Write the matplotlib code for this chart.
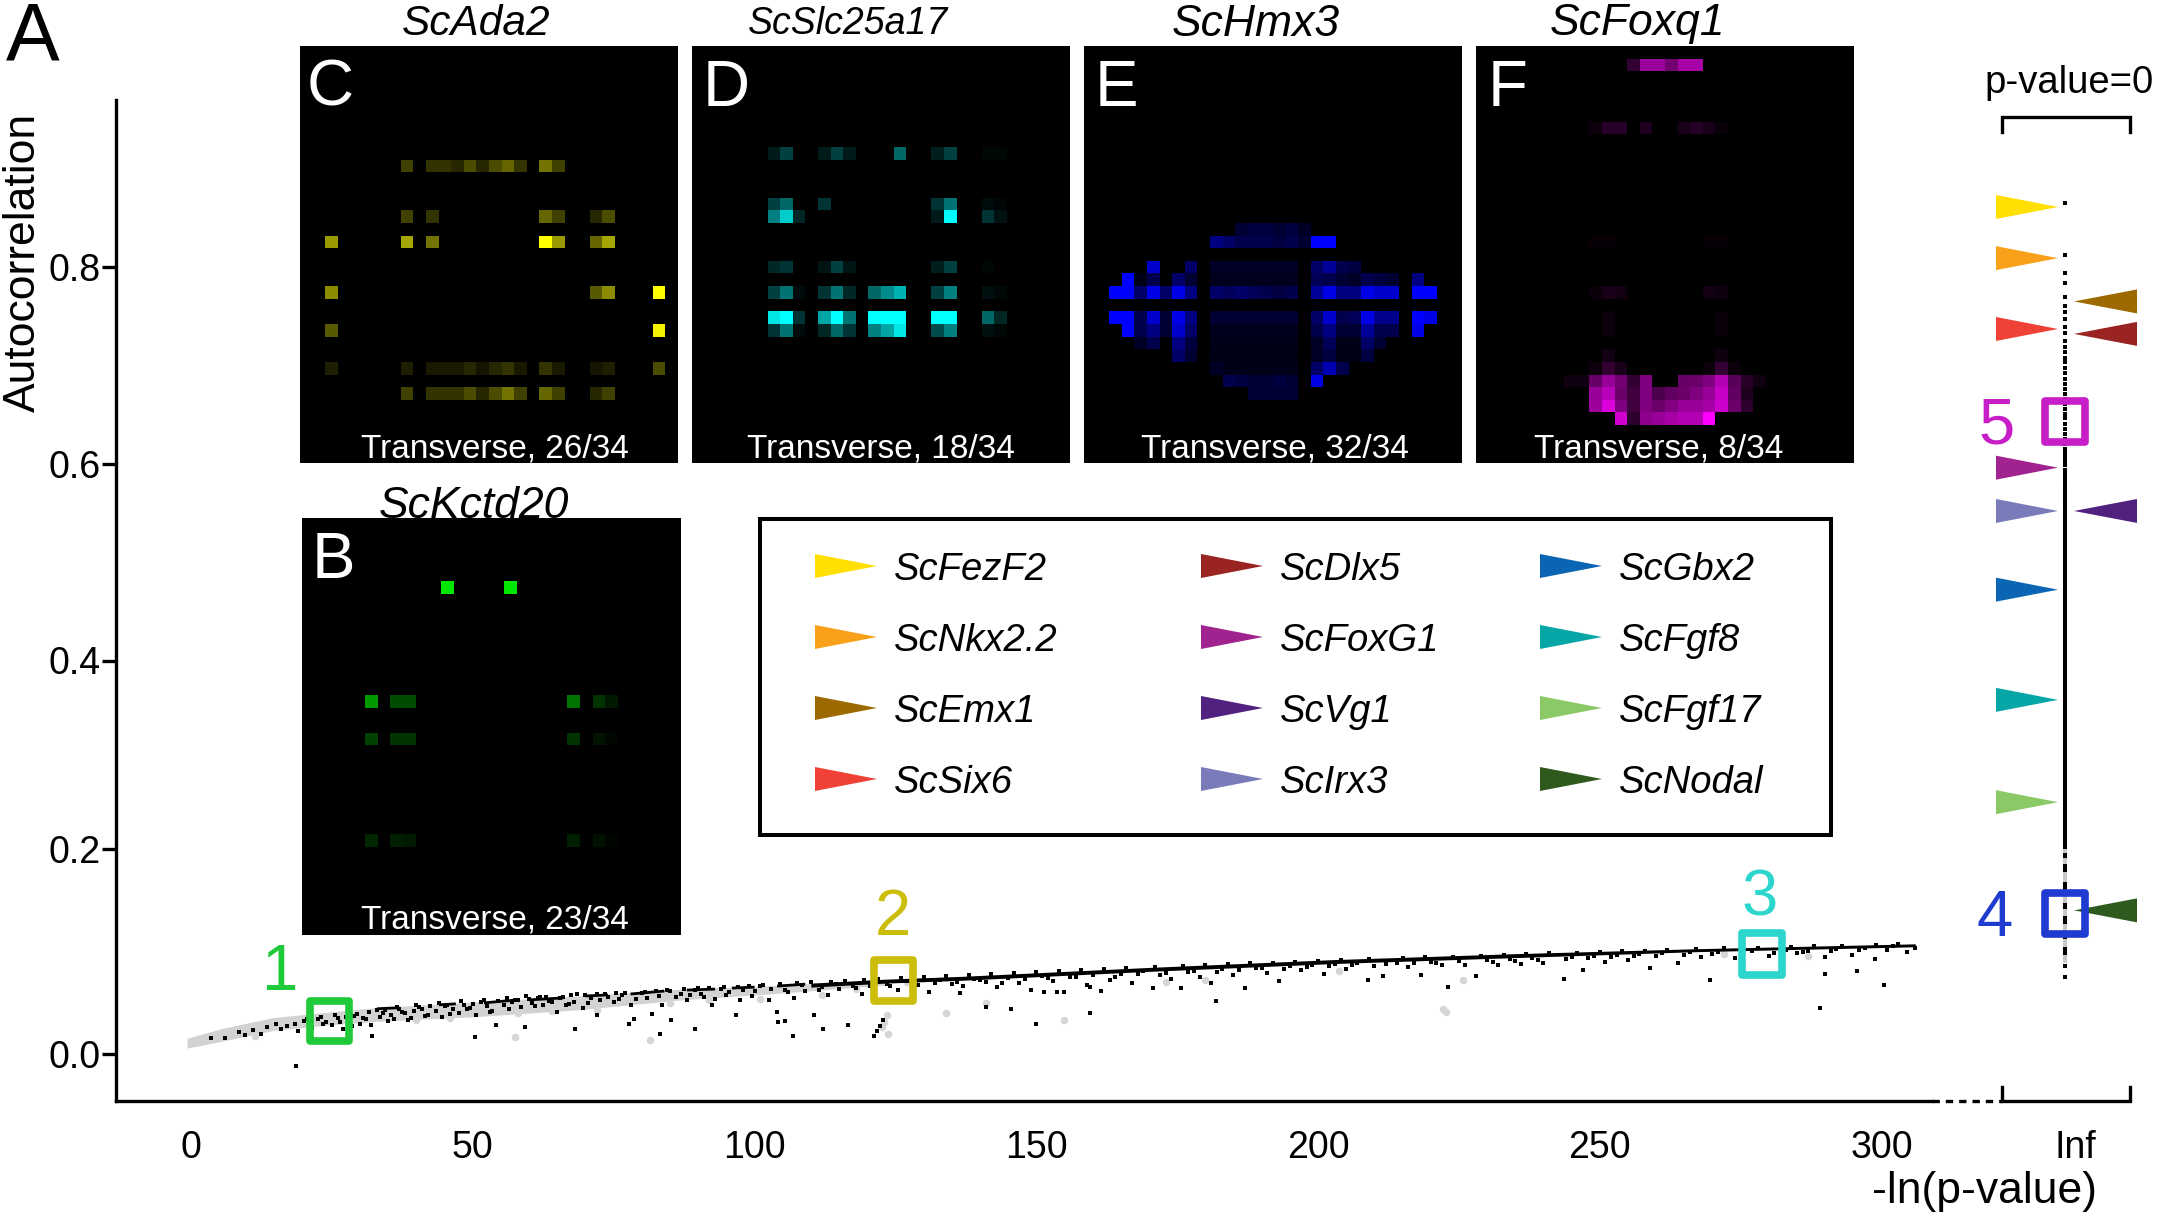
#!/usr/bin/env python3
"""Autocorrelation vs -ln(p-value) with expression panels around it."""

import numpy as np
import matplotlib
matplotlib.use("Agg")
import matplotlib.pyplot as plt
from matplotlib.colors import LinearSegmentedColormap
from matplotlib.patches import Polygon, Rectangle

plt.rcParams["font.family"] = ["Liberation Sans", "DejaVu Sans"]

W, H = 2157, 1215

# -- values ------------------------------------------------------------------
x_ticks = [0, 50, 100, 150, 200, 250, 300]
y_ticks = [0.0, 0.2, 0.4, 0.6, 0.8]
# the 0.2 mark sits a little off the regular spacing in the original
y_tick_pos = [0.0, 0.208, 0.4, 0.6, 0.8]

# upper edge of the main cloud and the lower edge of its grey part
band_x = [-0.7, 5.5, 14.6, 23.4, 32.5, 50.6, 68.8, 87, 105, 123]
band_top = [0.016, 0.026, 0.037, 0.042, 0.047, 0.053, 0.059, 0.066, 0.070, 0.076]
band_grey_low = [0.006, 0.013, 0.024, 0.029, 0.033, 0.038, 0.045, 0.055, 0.062, 0.070]
band_black_x = [110, 123, 137, 170, 203, 235, 267, 306]
band_black_top = [0.072, 0.076, 0.079, 0.088, 0.096, 0.102, 0.107, 0.112]
band_black_low = [0.068, 0.072, 0.075, 0.084, 0.092, 0.098, 0.104, 0.109]

# black stretches on the grey part of the cloud
run_x0 = [33, 44, 52, 60, 70, 78, 88, 96, 104]
run_x1 = [37, 47, 58, 66, 74, 84, 93, 100, 109]
run_y0 = [0.046, 0.050, 0.052, 0.055, 0.059, 0.061, 0.065, 0.067, 0.069]
run_y1 = [0.047, 0.051, 0.055, 0.057, 0.060, 0.064, 0.066, 0.068, 0.071]

near_x = [3.5, 6, 8.5, 9.5, 11, 12.5, 13.5, 15, 16, 17, 18.5, 18.6, 19, 20, 21.5, 22.5, 24, 25, 26, 27, 28,
          29, 30, 31, 32.2, 33, 34, 35, 36.5, 37.5, 39, 40, 41, 42, 44, 45, 46, 48, 49, 50, 50.4, 52, 53, 54.2,
          56, 57, 58, 59.2, 59.5, 61, 62, 63.5, 65, 66, 67, 68.2, 68.5, 69.5, 71, 72.1, 73.5, 75, 76.5, 77.8, 78.6,
          79, 80.5, 81.8, 83, 83.2, 84.5, 85.2, 87, 88, 89.4, 89.5, 91, 92.5, 94, 95, 96.8, 98, 99.5, 101, 102.5,
          104, 104.1, 105.4, 106, 106.9, 107, 108.5, 110.6, 111.5, 112.1, 113, 114.5, 116.6, 118, 119, 121, 121.2,
          121.7, 122.3, 122.8, 124, 125.5, 127, 129, 131, 133, 135, 136.5, 137, 139, 141, 141.1, 143, 145, 145.5,
          147, 149, 150, 151, 151.3, 153, 153.6, 155, 157, 159, 159.5, 159.6, 161.5, 163, 165, 167, 169, 170.8,
          172, 174, 175.7, 177, 179, 181, 181.9, 183, 185, 187, 189, 191, 193.1, 195, 197, 199, 201, 203, 205, 207,
          208.9, 210, 211.6, 214, 216, 218.3, 220, 222, 223, 225, 228, 230, 232, 234, 236, 238, 240, 243.7, 245,
          247, 249, 251, 253, 255, 257, 259, 261, 263.8, 266, 268, 269.5, 271, 274, 277, 280, 283, 285, 287, 289.1,
          289.9, 289.95, 292, 294.7, 295.6, 297, 298.8, 300.4, 302, 304.5]
near_y = [0.016, 0.016, 0.022, 0.019, 0.024, 0.020, 0.027, 0.031, 0.025, 0.028, 0.030, -0.012, 0.023, 0.034, 0.026, 0.036, 0.033, 0.029, 0.037, 0.025, 0.033,
          0.039, 0.031, 0.036, 0.018, 0.045, 0.042, 0.034, 0.048, 0.043, 0.037, 0.050, 0.046, 0.040, 0.052, 0.049, 0.041, 0.054, 0.046, 0.051, 0.017, 0.055, 0.043, 0.029,
          0.057, 0.053, 0.055, 0.027, 0.059, 0.049, 0.058, 0.054, 0.043, 0.058, 0.051, 0.025, 0.061, 0.047, 0.057, 0.040, 0.061, 0.053, 0.060, 0.031, 0.036,
          0.056, 0.063, 0.041, 0.059, 0.020, 0.065, 0.035, 0.061, 0.055, 0.025, 0.065, 0.058, 0.050, 0.066, 0.060, 0.040, 0.065, 0.059, 0.069, 0.055,
          0.043, 0.033, 0.034, 0.063, 0.018, 0.057, 0.070, 0.040, 0.065, 0.025, 0.060, 0.071, 0.029, 0.067, 0.061, 0.073, 0.018,
          0.023, 0.028, 0.035, 0.069, 0.065, 0.074, 0.070, 0.063, 0.075, 0.071, 0.062, 0.069, 0.076, 0.073, 0.048, 0.068, 0.077, 0.046,
          0.072, 0.065, 0.030, 0.079, 0.063, 0.074, 0.063, 0.063, 0.078, 0.070, 0.042, 0.068, 0.064, 0.075, 0.081, 0.072, 0.084, 0.067,
          0.080, 0.076, 0.067, 0.083, 0.078, 0.072, 0.054, 0.086, 0.080, 0.067, 0.087, 0.082, 0.074, 0.089, 0.085, 0.090, 0.081, 0.091, 0.086, 0.092,
          0.075, 0.089, 0.079, 0.093, 0.088, 0.080, 0.094, 0.090, 0.068, 0.095, 0.079, 0.096, 0.090, 0.097, 0.091, 0.098, 0.093, 0.076, 0.099,
          0.085, 0.100, 0.094, 0.101, 0.096, 0.102, 0.087, 0.103, 0.092, 0.104, 0.099, 0.075, 0.104, 0.098, 0.105, 0.100, 0.106, 0.103, 0.105, 0.047,
          0.081, 0.099, 0.107, 0.101, 0.084, 0.108, 0.097, 0.070, 0.110, 0.104]
# the thick crowd of points just under the edge
dense_x = [20.5, 21, 23, 23.5, 25.5, 26.5, 27.5, 28.5, 29.5, 30.5, 31.5, 32, 33.5, 34.5, 35.5, 36, 37, 38, 38.5, 39.5,
           40.5, 41.5, 42.5, 43.5, 44.5, 45.5, 46.5, 47.5, 48.5, 49.5, 50.5, 51.5, 52.5, 53.5, 54.5, 55.5, 56.5, 57.5, 58.5,
           60, 60.5, 61.5, 62.5, 63, 64, 65.5, 66.5, 67.5, 68, 70, 70.5, 72, 72.5, 74, 75.5, 76, 77, 78, 80, 81, 82.5, 83.5,
           85, 86, 87.5, 88.5, 90, 90.5, 92, 93, 94.5, 95.5, 97, 97.5, 99, 100, 101.5, 103, 104.5, 105.5, 107.5, 109, 110,
           112, 113.5, 115, 116, 117.5, 119.5, 120.5, 122, 123.5, 126, 128, 130, 132, 134, 136, 138, 140, 142, 144, 146,
           148, 150, 152, 154, 156, 158, 160, 162, 164, 166, 168, 171, 173, 176, 178, 180, 182, 184, 186, 188, 190, 192,
           194, 196, 198, 200, 202, 204, 206, 209, 212, 215, 217, 219, 221, 224, 226, 229, 231, 233, 235, 237, 239, 241,
           244, 246, 248, 250, 252, 254, 256, 258, 260, 262, 265, 267, 270, 272, 275, 278, 281, 284, 286, 288, 291, 293,
           296, 299, 301, 303, 306]
dense_y = [0.036, 0.030, 0.038, 0.031, 0.040, 0.033, 0.038, 0.028, 0.041, 0.037, 0.043, 0.029, 0.038, 0.045, 0.040, 0.036, 0.046, 0.042, 0.035, 0.044,
           0.048, 0.039, 0.049, 0.044, 0.038, 0.050, 0.046, 0.042, 0.050, 0.047, 0.040, 0.053, 0.049, 0.044, 0.054, 0.050, 0.046, 0.055, 0.048,
           0.056, 0.052, 0.057, 0.050, 0.058, 0.053, 0.057, 0.050, 0.060, 0.053, 0.060, 0.052, 0.061, 0.055, 0.058, 0.062, 0.056, 0.062, 0.050, 0.062, 0.057, 0.064, 0.050,
           0.064, 0.058, 0.066, 0.060, 0.067, 0.061, 0.067, 0.056, 0.068, 0.063, 0.068, 0.055, 0.069, 0.064, 0.070, 0.066, 0.071, 0.065, 0.072, 0.064, 0.073,
           0.068, 0.073, 0.066, 0.074, 0.069, 0.075, 0.069, 0.076, 0.071, 0.077, 0.070, 0.078, 0.072, 0.079, 0.073, 0.080, 0.075, 0.081, 0.072, 0.082,
           0.076, 0.083, 0.077, 0.084, 0.078, 0.085, 0.080, 0.086, 0.078, 0.087, 0.081, 0.088, 0.082, 0.089, 0.084, 0.090, 0.083, 0.091, 0.085, 0.092, 0.087, 0.093,
           0.086, 0.094, 0.088, 0.095, 0.089, 0.096, 0.090, 0.097, 0.091, 0.098, 0.092, 0.099, 0.093, 0.099, 0.090, 0.100, 0.094, 0.101, 0.095, 0.102, 0.096, 0.103,
           0.097, 0.103, 0.098, 0.104, 0.099, 0.105, 0.100, 0.105, 0.100, 0.106, 0.101, 0.107, 0.102, 0.108, 0.103, 0.108, 0.103, 0.109, 0.104, 0.110, 0.105, 0.110,
           0.106, 0.111, 0.106, 0.112, 0.108]
grey_x = [11.3, 57.5, 81.4, 123.7, 133.9, 122.7, 123, 123.5, 40, 46, 58, 64, 72, 85, 92, 101, 112, 118, 127, 141, 155, 173, 180, 203.7, 222.2, 222.8, 225.7, 272, 287]
grey_y = [0.018, 0.017, 0.014, 0.020, 0.042, 0.027, 0.033, 0.040, 0.035, 0.037, 0.042, 0.044, 0.045, 0.052, 0.055, 0.056, 0.060, 0.066, 0.073, 0.052, 0.035, 0.073, 0.075, 0.084, 0.046, 0.043, 0.075, 0.102, 0.100]

# p-value = 0 column
inf_x = 332.6
inf_dots = [0.865, 0.812, 0.794, 0.784, 0.769, 0.760, 0.754, 0.747, 0.739, 0.733, 0.725, 0.719, 0.714, 0.708,
            0.703, 0.697, 0.692, 0.686, 0.681, 0.676, 0.671, 0.666, 0.661, 0.656, 0.651, 0.646, 0.640, 0.635,
            0.630, 0.625, 0.620, 0.615, 0.611, 0.607, 0.603, 0.599, 0.594, 0.590, 0.586, 0.582, 0.089, 0.078]
inf_solid = (0.582, 0.208)
inf_grey = (0.208, 0.092)
inf_black_hi = [0.204, 0.193, 0.175, 0.153, 0.140, 0.124, 0.109]
inf_black_lo = [0.199, 0.185, 0.167, 0.147, 0.132, 0.117, 0.101]

# legend order, with the autocorrelation each arrow points at and its side
genes = ["ScFezF2", "ScNkx2.2", "ScEmx1", "ScSix6", "ScDlx5", "ScFoxG1", "ScVg1", "ScIrx3", "ScGbx2", "ScFgf8", "ScFgf17", "ScNodal"]
gene_colors = ["#ffe000", "#f9a11b", "#9c6a00", "#ef4136", "#9a2421", "#a0238f", "#52217f", "#7a7cba", "#0a66b5", "#06a6a6", "#8bc866", "#2f5a1e"]
gene_values = [0.861, 0.809, 0.765, 0.737, 0.732, 0.596, 0.552, 0.552, 0.472, 0.360, 0.256, 0.146]
gene_sides = ["L", "L", "R", "L", "R", "L", "R", "L", "L", "L", "L", "R"]

# expression slices: (row, first column, intensities) on a 33 x 30 grid
kctd20_cells = [
    (5, 11, [0.9]), (5, 16, [0.9]),
    (14, 5, [0.6]), (14, 7, [0.3, 0.3]), (14, 21, [0.45]), (14, 23, [0.2, 0.1]),
    (17, 5, [0.25]), (17, 7, [0.2, 0.2]), (17, 21, [0.2]), (17, 23, [0.08, 0.03]),
    (25, 5, [0.15]), (25, 7, [0.12, 0.1]), (25, 21, [0.12]), (25, 23, [0.07, 0.02]),
]
ada2_cells = [
    (9, 8, [0.25]), (9, 10, [0.2, 0.2, 0.15, 0.3, 0.15, 0.3, 0.4, 0.2]), (9, 19, [0.45, 0.25]),
    (13, 8, [0.25]), (13, 10, [0.2]), (13, 19, [0.4, 0.25]), (13, 23, [0.15, 0.3]),
    (15, 2, [0.6]), (15, 8, [0.65]), (15, 10, [0.45]), (15, 19, [1.0, 0.6]), (15, 23, [0.4, 0.65]),
    (19, 2, [0.55]), (19, 23, [0.35, 0.55]), (19, 28, [1.0]),
    (22, 2, [0.35]), (22, 28, [0.95]),
    (25, 2, [0.12]), (25, 8, [0.12]), (25, 10, [0.1, 0.1, 0.1, 0.15, 0.08, 0.15, 0.2, 0.1]), (25, 19, [0.2, 0.1]), (25, 23, [0.08, 0.12]), (25, 28, [0.3]),
    (27, 8, [0.25]), (27, 10, [0.2, 0.2, 0.2, 0.3, 0.15, 0.3, 0.45, 0.25]), (27, 19, [0.4, 0.25]), (27, 23, [0.15, 0.25]),
]
slc25a17_cells = [
    (8, 6, [0.1, 0.25]), (8, 10, [0.1, 0.25, 0.1]), (8, 16, [0.4]), (8, 19, [0.12, 0.25]), (8, 23, [0.03, 0.03]),
    (12, 6, [0.25, 0.4]), (12, 10, [0.2]), (12, 19, [0.2, 0.45]), (12, 23, [0.05, 0.02]),
    (13, 6, [0.5, 0.8, 0.15]), (13, 19, [0.1, 1.0]), (13, 23, [0.2, 0.07]),
    (17, 6, [0.15, 0.2]), (17, 10, [0.08, 0.25, 0.08]), (17, 19, [0.12, 0.25]), (17, 23, [0.03]),
    (19, 6, [0.25, 0.45, 0.05]), (19, 10, [0.2, 0.45, 0.15]), (19, 14, [0.4, 0.55, 0.7]), (19, 19, [0.25, 0.5]), (19, 23, [0.06, 0.03]),
    (21, 6, [0.9, 1.0, 0.2]), (21, 10, [0.65, 1.0, 0.45]), (21, 14, [1.0, 1.0, 1.0]), (21, 19, [1.0, 1.0]), (21, 23, [0.4, 0.15]),
    (22, 6, [0.2, 0.45, 0.05]), (22, 10, [0.15, 0.4, 0.2]), (22, 14, [0.5, 0.65, 0.9]), (22, 19, [0.3, 0.5]), (22, 23, [0.06, 0.03]),
]
hmx3_cells = [
    (14, 12, [0.2, 0.25, 0.25, 0.2, 0.25, 0.15]),
    (15, 10, [0.5, 0.4, 0.3, 0.3, 0.3, 0.25, 0.3, 0.2, 1.0, 1.0]),
    (17, 5, [0.8]), (17, 8, [0.4]), (17, 10, [0.15] * 7), (17, 18, [0.4, 0.6, 0.3, 0.25]),
    (18, 3, [1.0, 0.1, 0.3]), (18, 7, [0.4, 0.2]), (18, 10, [0.12] * 7), (18, 18, [0.35, 0.3, 0.2, 0.15, 0.3, 0.25, 0.2]), (18, 26, [0.5]),
    (19, 2, [1.0, 1.0, 0.4, 0.9, 0.4, 0.9, 0.5]), (19, 10, [0.4, 0.35, 0.4, 0.35, 0.3, 0.25, 0.3]), (19, 18, [0.6, 0.9, 0.5, 0.5, 0.9, 0.8, 0.8]), (19, 26, [1.0, 1.0]),
    (21, 2, [1.0, 1.0, 0.3, 0.8, 0.2, 0.9, 0.5]), (21, 10, [0.2] * 7), (21, 18, [0.4, 0.8, 0.3, 0.35, 0.9, 0.55, 0.55]), (21, 26, [1.0, 0.9]),
    (22, 3, [1.0, 0.3, 0.5, 0.2, 0.8, 0.4]), (22, 10, [0.12] * 7), (22, 18, [0.3, 0.5, 0.2, 0.2, 0.6, 0.3, 0.3]), (22, 26, [0.9]),
    (23, 4, [0.15, 0.3]), (23, 7, [0.5, 0.25]), (23, 10, [0.1] * 7), (23, 18, [0.15, 0.35, 0.1, 0.1, 0.4, 0.2]),
    (24, 7, [0.4, 0.2]), (24, 10, [0.08] * 7), (24, 18, [0.15, 0.25, 0.08, 0.08, 0.25]),
    (25, 10, [0.15, 0.1, 0.1, 0.1, 0.1, 0.1, 0.1]), (25, 18, [0.4, 0.7, 0.3]),
    (26, 11, [0.3, 0.25, 0.2, 0.2, 0.25, 0.2]), (26, 18, [0.9]),
    (27, 13, [0.2, 0.2, 0.2, 0.2]),
]
foxq1_cells = [
    (1, 12, [0.2, 0.6, 0.6, 0.45, 0.65, 0.65]),
    (6, 9, [0.05, 0.15, 0.15]), (6, 13, [0.12]), (6, 16, [0.1, 0.15, 0.1, 0.04]),
    (15, 9, [0.03, 0.03]), (15, 18, [0.03, 0.03]),
    (19, 9, [0.04, 0.1, 0.08]), (19, 18, [0.08, 0.06]),
    (21, 10, [0.05]), (21, 19, [0.04]), (22, 10, [0.05]), (22, 19, [0.04]),
    (24, 10, [0.08]), (24, 19, [0.06]),
    (25, 9, [0.05, 0.2, 0.1]), (25, 18, [0.05, 0.2, 0.05]),
    (26, 7, [0.07, 0.07, 0.4, 0.6, 0.45, 0.2, 0.5]), (26, 16, [0.4, 0.42, 0.5, 0.7, 0.35, 0.15, 0.07]),
    (27, 9, [0.6, 0.72, 0.42, 0.25, 0.5, 0.3, 0.38, 0.42, 0.5, 0.6, 0.78, 0.38, 0.12]),
    (28, 9, [0.62, 0.85, 0.5, 0.25, 0.5, 0.42, 0.5, 0.6, 0.6, 0.65, 0.8, 0.42, 0.18]),
    (29, 11, [0.82, 0.18, 0.55, 0.6, 0.65, 0.7, 0.7, 1.0]),
]

# -- layout, in pixels of the finished picture ------------------------------
FS_TICK = 27
X0_PX, PX_PER_X = 191, 5.635
Y0_PX, PX_PER_Y = 1054, 983.75


def px_of_y(v):
    return Y0_PX - v * PX_PER_Y


def x_of_px(p):
    return (p - X0_PX) / PX_PER_X


def y_of_px(p):
    return (Y0_PX - p) / PX_PER_Y


def rect_from_px(left, top, right, bottom):
    return [left / W, 1 - bottom / H, (right - left) / W, (bottom - top) / H]


def draw_slice(fig, box, cells, color):
    mat = np.zeros((33, 30))
    for row, col, vals in cells:
        mat[row, col:col + len(vals)] = vals
    ax = fig.add_axes(rect_from_px(*box))
    cmap = LinearSegmentedColormap.from_list("slice", ["#000000", color])
    ax.imshow(mat, cmap=cmap, vmin=0, vmax=1, aspect="auto", interpolation="nearest")
    ax.axis("off")


fig = plt.figure(figsize=(W / 100, H / 100), dpi=100, facecolor="white")

# main scatter
ax = fig.add_axes(rect_from_px(116, 100, W, 1101))
ax.set_xlim(x_of_px(116), x_of_px(W))
ax.set_ylim(y_of_px(1101), y_of_px(100))
ax.patch.set_alpha(0)
for side in ["top", "right"]:
    ax.spines[side].set_visible(False)
for side in ["left", "bottom"]:
    ax.spines[side].set_linewidth(2.4)
ax.spines["bottom"].set_bounds(x_of_px(116), x_of_px(1932))
ax.set_xticks(x_ticks + [x_of_px(2075)])
ax.set_xticklabels([str(t) for t in x_ticks] + ["Inf"], fontsize=FS_TICK)
ax.set_yticks(y_tick_pos)
ax.set_yticklabels([f"{t:.1f}" for t in y_ticks], fontsize=FS_TICK)
ax.tick_params(axis="x", length=0, pad=21)
ax.tick_params(axis="y", length=10, width=2.4, pad=1)

ax.fill_between(band_x, band_grey_low, band_top, color="#d2d2d2", lw=0)
ax.scatter(grey_x, grey_y, s=30, c="#d6d6d6", marker="o", linewidths=0)
ax.fill_between(band_black_x, band_black_low, band_black_top, color="black", lw=0)
for x0, x1, y0, y1 in zip(run_x0, run_x1, run_y0, run_y1):
    ax.plot([x0, x1], [y0, y1], color="black", lw=2, solid_capstyle="butt")
ax.scatter(near_x, near_y, s=7, c="black", marker="s", linewidths=0)
ax.scatter(dense_x, dense_y, s=7, c="black", marker="s", linewidths=0)

# p-value = 0 column
ax.scatter([inf_x] * len(inf_dots), inf_dots, s=12, c="black", marker="s", linewidths=0)
ax.plot([inf_x, inf_x], inf_solid, color="black", lw=2.9, solid_capstyle="butt")
ax.plot([inf_x, inf_x], inf_grey, color="#c8c8c8", lw=2.9, solid_capstyle="butt")
ax.vlines([inf_x] * len(inf_black_hi), inf_black_lo, inf_black_hi, color="black", lw=2.9)

# everything else sits on an overlay measured in pixels
ov = fig.add_axes([0, 0, 1, 1], zorder=5)
ov.set_xlim(0, W)
ov.set_ylim(H, 0)
ov.axis("off")

# titles go under the slices
slice_titles = [("ScAda2", 476, 24, 30.5), ("ScSlc25a17", 848, 24, 27), ("ScHmx3", 1256, 24, 32), ("ScFoxq1", 1637, 24, 32), ("ScKctd20", 474, 506, 32)]
for name, px, py, size in slice_titles:
    ax.text(x_of_px(px), y_of_px(py), name, fontsize=size, style="italic", ha="center", va="center")

slices = [
    ((302, 518, 681, 935), kctd20_cells, "#00ff00", "B", 333, 561, "Transverse, 23/34", 495, 920),
    ((300, 46, 678, 463), ada2_cells, "#ffff00", "C", 330, 89, "Transverse, 26/34", 495, 449),
    ((692, 46, 1070, 463), slc25a17_cells, "#00ffff", "D", 726, 89, "Transverse, 18/34", 881, 449),
    ((1084, 46, 1462, 463), hmx3_cells, "#0000ff", "E", 1116, 89, "Transverse, 32/34", 1275, 449),
    ((1476, 46, 1854, 463), foxq1_cells, "#ff00ff", "F", 1508, 89, "Transverse, 8/34", 1659, 449),
]
for box, cells, color, letter, lx, ly, caption, cx, cy in slices:
    draw_slice(fig, box, cells, color)
    ov.text(lx, ly, letter, color="white", fontsize=47, ha="center", va="center")
    ov.text(cx, cy, caption, color="white", fontsize=24, ha="center", va="center")

ov.text(33, 39, "A", fontsize=58, ha="center", va="center")
ov.text(23, 262, "Autocorrelation", fontsize=32, rotation=90, ha="center", va="center")
ov.text(1985, 1192, "-ln(p-value)", fontsize=32, ha="center", va="center")
ov.text(2069, 83, "p-value=0", fontsize=27.5, ha="center", va="center")

# brackets and the broken axis
ov.plot([2002, 2002, 2130, 2130], [132, 117, 117, 132], color="black", lw=2.4, solid_joinstyle="miter")
ov.plot([2002, 2002, 2130, 2130], [1087, 1101, 1101, 1087], color="black", lw=2.4, solid_joinstyle="miter")
ov.plot([1932, 2002], [1101, 1101], color="black", lw=2.4, dashes=(2.2, 1.8))

# arrows beside the column
for name, color, value, side in zip(genes, gene_colors, gene_values, gene_sides):
    tip = px_of_y(value)
    base_x, tip_x = (1996, 2058) if side == "L" else (2137, 2074)
    ov.add_patch(Polygon([(base_x, tip - 12), (tip_x, tip), (base_x, tip + 12)], closed=True, fc=color, ec="none"))

# numbered boxes
boxes = [
    ("1", "#1fca3a", 309.7, 1000.5, 349, 1041, 280, 973),
    ("2", "#cbbd0a", 873.7, 959.5, 913, 1000.5, 893, 918),
    ("3", "#2cd6cc", 1741.7, 933, 1782, 974.5, 1760, 899),
    ("4", "#1f3bd0", 2044.7, 893, 2084.5, 934, 1995, 919),
    ("5", "#c81ec8", 2044.7, 401, 2084.5, 441.5, 1997, 426),
]
for label, color, left, top, right, bottom, tx, ty in boxes:
    ov.add_patch(Rectangle((left, top), right - left, bottom - top, fill=False, ec=color, lw=5.5, joinstyle="round"))
    ov.text(tx, ty, label, color=color, fontsize=47, ha="center", va="center")

# legend
ov.add_patch(Rectangle((760, 519), 1071, 316, fill=False, ec="black", lw=2.9, joinstyle="miter"))
legend_cols = [(815, 894), (1201, 1280), (1540, 1619)]
legend_rows = [566, 637, 708, 779]
for i, (name, color) in enumerate(zip(genes, gene_colors)):
    tri_x, txt_x = legend_cols[i // 4]
    row_y = legend_rows[i % 4]
    ov.add_patch(Polygon([(tri_x, row_y - 12), (tri_x + 62, row_y), (tri_x, row_y + 12)], closed=True, fc=color, ec="none"))
    ov.text(txt_x, row_y + 4, name, fontsize=27.5, style="italic", ha="left", va="center")

fig.savefig("out.png", dpi=100, facecolor="white")
